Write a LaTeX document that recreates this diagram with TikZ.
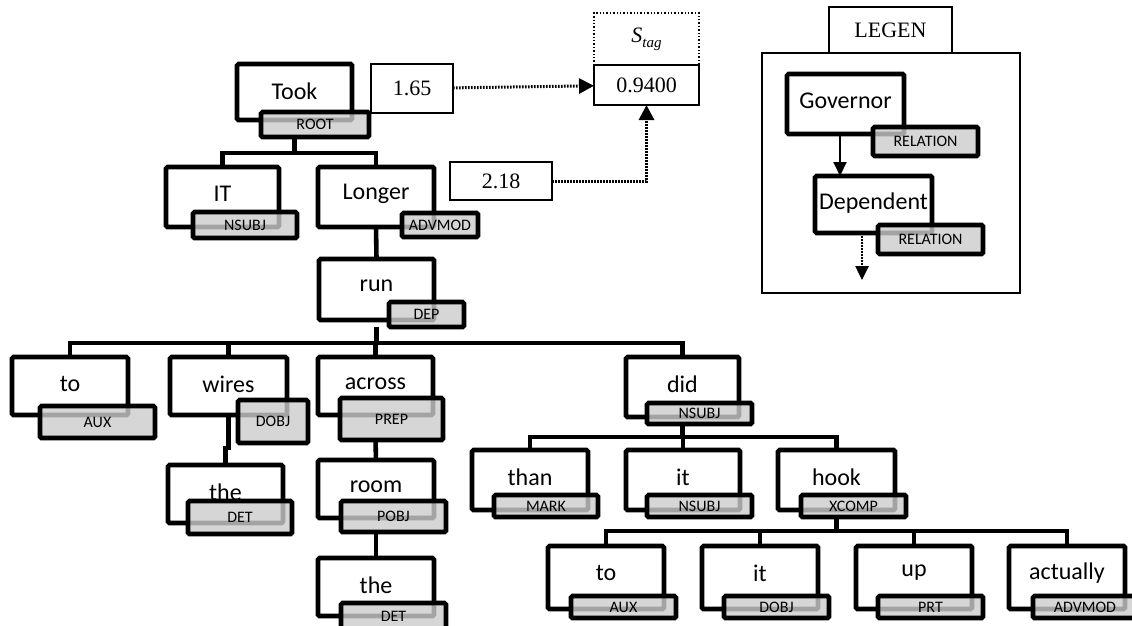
\documentclass[tikz,border=0pt]{standalone}
\usepackage{fontspec}
\setmainfont{Carlito}
\newfontfamily\tnrfont{Liberation Serif}
\usetikzlibrary{arrows.meta,calc}
\pgfdeclarelayer{bg}
\pgfsetlayers{bg,main}
\tikzset{
 wbox/.style={draw, line width=4.6pt, rounded corners=1.5pt, fill=white, inner sep=0pt, outer sep=0pt},
 wtext/.style={font=\fontsize{24}{27}\selectfont, inner sep=0pt},
 lbox/.style={draw, line width=4.6pt, rounded corners=1.5pt, fill=black!20, fill opacity=0.8, text opacity=1, inner sep=0pt, outer sep=0pt, font=\fontsize{16}{18}\selectfont},
 conn/.style={line width=4.6pt},
 sbox/.style={draw, line width=1.4pt, fill=white, inner sep=0pt, outer sep=0pt, font=\tnrfont\fontsize{22}{25}\selectfont},
 darrow/.style={line width=3pt, dash pattern=on 1.6pt off 1.4pt, -{Triangle[width=15pt,length=15pt]}},
 larrow/.style={line width=2pt, -{Triangle[width=13pt,length=14pt]}},
}
\newcommand\wbx[6]{%
  \node[wbox, minimum width={#4-#2}, minimum height={#5-#3}] (#1) at ({(#2+#4)/2},{(#3+#5)/2}) {};
  \node[wtext] (#1t) at ([yshift=-27pt]#1.north) {#6};}
\newcommand\lbx[6]{%
  \node[lbox, minimum width={#4-#2}, minimum height={#5-#3}] (#1) at ({(#2+#4)/2},{(#3+#5)/2}) {#6};}
\begin{document}
\begin{tikzpicture}[x=1pt,y=-1pt]
\useasboundingbox (0,0) rectangle (1132,625);
% tree
\wbx{took}{237}{64}{352}{120}{Took}
\lbx{tookl}{261}{112}{369}{137}{ROOT}
\wbx{itA}{166}{167}{279}{227}{IT}
\lbx{itAl}{193}{212}{297}{238}{NSUBJ}
\wbx{longer}{318}{167}{434}{227}{Longer}
\lbx{longerl}{402}{213}{478}{237}{ADVMOD}
\wbx{run}{319}{259}{434}{320}{run}
\lbx{runl}{389}{302}{464}{327}{DEP}
\wbx{toA}{12}{357}{128}{415}{to}
\lbx{toAl}{40}{406}{155}{438}{AUX}
\wbx{wires}{170}{357}{287}{415}{wires}
\lbx{wiresl}{238}{400}{308}{443}{DOBJ}
\wbx{across}{318}{357}{433}{415}{across}
\lbx{acrossl}{340}{398}{443}{440}{PREP}
\wbx{theA}{168}{465}{283}{523}{the}
\lbx{theAl}{188}{501}{292}{534}{DET}
\wbx{room}{318}{460}{434}{518}{room}
\lbx{rooml}{341}{501}{446}{532}{POBJ}
\wbx{theB}{318}{558}{434}{616}{the}
\lbx{theBl}{341}{603}{446}{630}{DET}
\wbx{did}{626}{357}{739}{417}{did}
\lbx{didl}{647}{403}{752}{424}{NSUBJ}
\wbx{than}{472}{450}{588}{510}{than}
\lbx{thanl}{494}{495}{598}{517}{MARK}
\wbx{itB}{626}{450}{740}{510}{it}
\lbx{itBl}{647}{495}{752}{517}{NSUBJ}
\wbx{hook}{778}{450}{895}{510}{hook}
\lbx{hookl}{801}{495}{906}{517}{XCOMP}
\wbx{toB}{548}{546}{664}{609}{to}
\lbx{toBl}{571}{596}{676}{618}{AUX}
\wbx{itC}{702}{546}{818}{609}{it}
\lbx{itCl}{724}{596}{829}{618}{DOBJ}
\wbx{up}{856}{546}{972}{609}{up}
\lbx{upl}{878}{596}{983}{618}{PRT}
\wbx{actually}{1009}{546}{1125}{609}{actually}
\lbx{actuallyl}{1033}{596}{1137}{618}{ADVMOD}
\begin{pgfonlayer}{bg}
\draw[conn] (took |- tookl.south) -- ++(0,16) -| (itA.north);
\draw[conn] (took |- tookl.south) -- ++(0,16) -| (longer.north);
\draw[conn] (longer.south) -- (run.north);
\draw[conn] (run |- runl.south) -- ++(0,16) -| (toA.north);
\draw[conn] (run |- runl.south) -- ++(0,16) -| (wires.north);
\draw[conn] (run |- runl.south) -- ++(0,16) -| (across.north);
\draw[conn] (run |- runl.south) -- ++(0,16) -| (did.north);
\draw[conn] (wires.south) -- ++(0,33) -| (theA.north);
\draw[conn] (across |- acrossl.south) -- (room.north);
\draw[conn] (room |- rooml.south) -- (theB.north);
\draw[conn] (did |- didl.south) -- ++(0,13) -| (than.north);
\draw[conn] (did |- didl.south) -- ++(0,13) -| (itB.north);
\draw[conn] (did |- didl.south) -- ++(0,13) -| (hook.north);
\draw[conn] (hook |- hookl.south) -- ++(0,14) -| (toB.north);
\draw[conn] (hook |- hookl.south) -- ++(0,14) -| (itC.north);
\draw[conn] (hook |- hookl.south) -- ++(0,14) -| (up.north);
\draw[conn] (hook |- hookl.south) -- ++(0,14) -| (actually.north);
\end{pgfonlayer}
% scores
\node[sbox, minimum width=82, minimum height=49] (v165) at (412,88.5) {1.65};
\node[sbox, dotted, line width=1.6pt, minimum width=105, minimum height=52] (stag) at (646.5,39) {\itshape S\raisebox{-5pt}{\fontsize{15}{17}\selectfont tag}};
\node[sbox, minimum width=105, minimum height=40] (v094) at (646.5,85) {0.9400};
\node[sbox, minimum width=102, minimum height=38] (v218) at (501,181) {2.18};
\draw[darrow] (v165) -- (v094);
\draw[darrow] (v218) -| (v094);
% legend
\node[draw, line width=1.4pt, inner sep=0pt, minimum width=258, minimum height=240] (legbox) at (891,173) {};
\node[sbox, minimum width=123, minimum height=46] (legtab) at (890.5,30) {LEGEN};
\wbx{gov}{787}{74}{904}{134}{Governor}
\lbx{govl}{873}{127}{978}{156}{RELATION}
\wbx{dep}{815}{176}{932}{233}{Dependent}
\lbx{depl}{878}{225}{983}{254}{RELATION}
\coordinate (legend-end) at (862,280);
\begin{pgfonlayer}{bg}
\draw[larrow] ([xshift=-5.5pt]gov.south) -- ([xshift=-5.5pt]gov.south |- dep.north);
\draw[larrow, line width=2.5pt, dash pattern=on 1.6pt off 1.4pt] (dep.south -| legend-end) -- (legend-end);
\end{pgfonlayer}
\end{tikzpicture}
\end{document}
